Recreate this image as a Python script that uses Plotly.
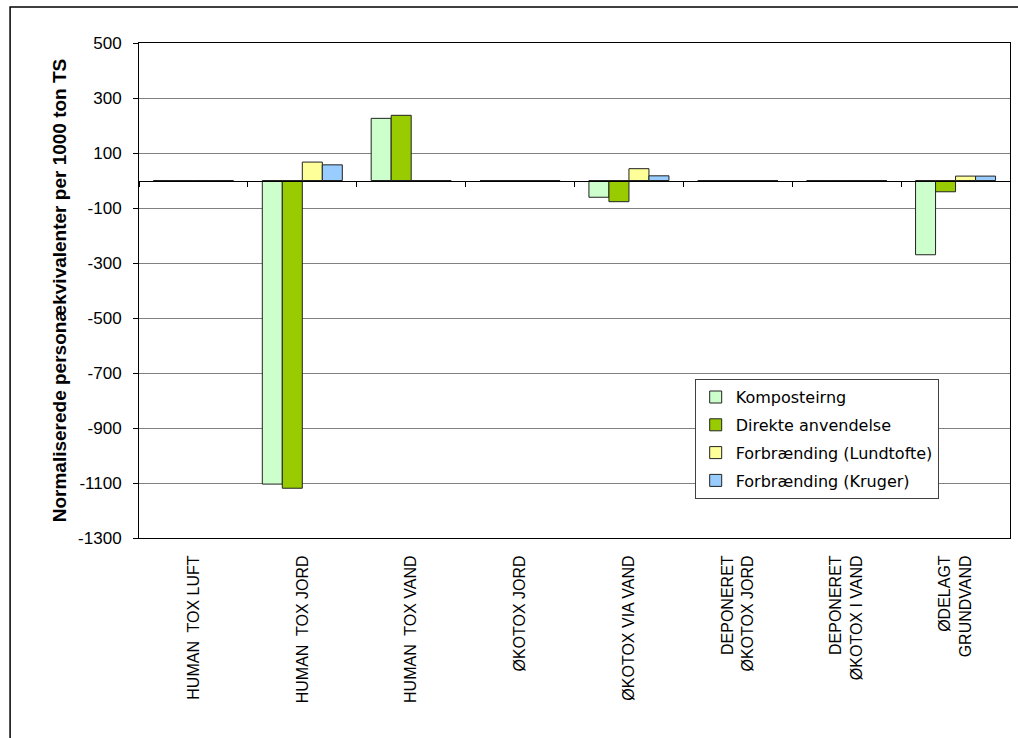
import plotly.graph_objects as go

categories = [
    "HUMAN  TOX LUFT",
    "HUMAN  TOX JORD",
    "HUMAN  TOX VAND",
    "ØKOTOX JORD",
    "ØKOTOX VIA VAND",
    "DEPONERET<br>ØKOTOX JORD",
    "DEPONERET<br>ØKOTOX I VAND",
    "ØDELAGT<br>GRUNDVAND",
]
series_names = [
    "Komposteirng",
    "Direkte anvendelse",
    "Forbrænding (Lundtofte)",
    "Forbrænding (Kruger)",
]
kompostering = [0, -1104, 226, 0, -61, 0, 0, -270]
direkte = [0, -1119, 237, 0, -77, 0, 0, -41]
lundtofte = [0, 67, 0, 0, 43, 0, 0, 16]
kruger = [0, 57, 0, 0, 17, 0, 0, 16]
series_values = [kompostering, direkte, lundtofte, kruger]
colors = ["#CCFFCC", "#99CC00", "#FFFF99", "#99CCFF"]

y_ticks = [-1300, -1100, -900, -700, -500, -300, -100, 100, 300, 500]
y_tick_text = ["-1300", "-1100", "-900", "-700", "-500", "-300", "-100", "100", "300", "500"]
y_min, y_max = -1300, 500

fig = go.Figure()
for i, (name, vals, col) in enumerate(zip(series_names, series_values, colors)):
    fig.add_trace(go.Bar(
        x=categories, y=vals, name=name, legendgroup=f"g{i}",
        marker=dict(color=col, line=dict(color="#222222", width=1)),
    ))

# helper trace for the category axis drawn through zero
fig.add_trace(go.Scatter(
    x=categories, y=[0] * len(categories), xaxis="x2", yaxis="y",
    mode="lines", line=dict(width=0), opacity=0, showlegend=False, hoverinfo="skip",
))

zero_pos = (0 - y_min) / (y_max - y_min)

fig.update_layout(
    width=1018, height=738,
    paper_bgcolor="white", plot_bgcolor="white",
    margin=dict(l=139, r=8, t=43, b=200),
    barmode="group", bargap=0.265, bargroupgap=0,
    font=dict(family="Liberation Sans, Arial, sans-serif", color="black"),
    xaxis=dict(
        type="category", categoryorder="array", categoryarray=categories,
        showline=True, linecolor="black", linewidth=1, mirror=True,
        ticks="", tickangle=-90, tickfont=dict(size=16),
        ticklabelstandoff=10, showgrid=False,
    ),
    xaxis2=dict(
        type="category", overlaying="x", matches="x", anchor="free",
        position=zero_pos, showline=True, linecolor="black", linewidth=1,
        ticks="outside", tickson="boundaries", ticklen=5, tickcolor="black",
        showticklabels=False, showgrid=False,
    ),
    yaxis=dict(
        range=[y_min, y_max], tickvals=y_ticks, ticktext=y_tick_text,
        showline=True, linecolor="black", linewidth=1, mirror=True,
        ticks="outside", ticklen=5, tickcolor="black",
        tickfont=dict(size=17), ticklabelstandoff=8,
        showgrid=True, gridcolor="#808080", gridwidth=1, zeroline=False,
        title=dict(text="<b>Normaliserede personækvivalenter per 1000 ton TS</b>",
                   font=dict(size=19), standoff=6),
    ),
    legend=dict(
        x=0.638, y=0.321, xanchor="left", yanchor="top",
        bgcolor="white", bordercolor="#404040", borderwidth=1,
        font=dict(family="DejaVu Sans, Verdana, sans-serif", size=16),
        traceorder="grouped", tracegroupgap=4,
    ),
    shapes=[dict(
        type="rect", xref="paper", yref="paper",
        x0=-0.148, x1=1.05, y0=-0.6, y1=1.0727,
        line=dict(color="black", width=1.5), fillcolor="rgba(0,0,0,0)", layer="below",
    )],
)

fig.write_html("out.html")
